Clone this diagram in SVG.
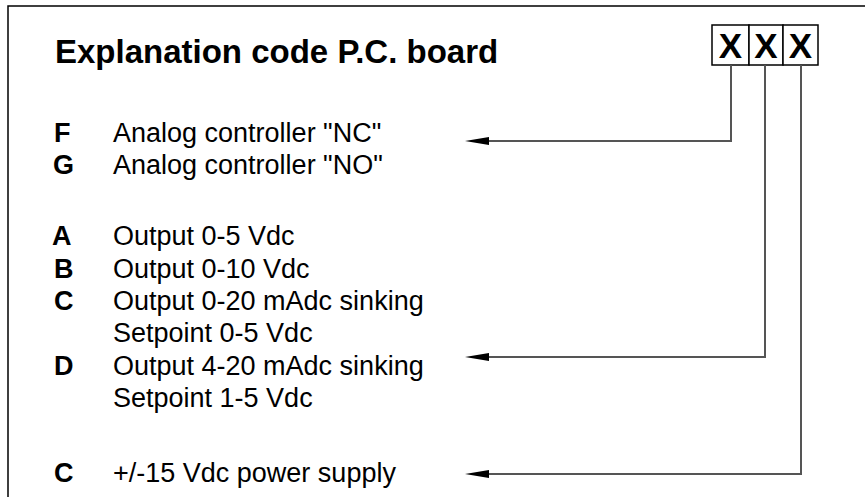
<svg xmlns="http://www.w3.org/2000/svg" width="865" height="497" viewBox="0 0 865 497">
<style>
.t{font-family:"Liberation Sans",Arial,sans-serif;font-size:27px;fill:#000}
.b{font-family:"Liberation Sans",Arial,sans-serif;font-weight:bold;fill:#000}
.l{font-size:27px}
.cell{fill:#fff;stroke:#000;stroke-width:1.5}
.con{fill:none;stroke:#555;stroke-width:2}
</style>
<defs>
<marker id="ah" viewBox="0 0 24 8" refX="0" refY="4" markerWidth="24" markerHeight="8" markerUnits="userSpaceOnUse" orient="auto-start-reverse">
<path d="M0,0 L24,4 L0,8 Z" fill="#000"/>
</marker>
</defs>
<rect x="0" y="0" width="865" height="497" fill="#fff"/>
<path d="M8,497 L8,6 L865,6" fill="none" stroke="#000" stroke-width="1.5"/>
<text id="title" class="b" x="55" y="63" font-size="33">Explanation code P.C. board</text>
<g id="code">
<rect class="cell" x="712" y="25" width="37" height="40"/>
<rect class="cell" x="749" y="25" width="34" height="40"/>
<rect class="cell" x="783" y="25" width="35" height="40"/>
<text class="b" x="730.5" y="58" font-size="35" text-anchor="middle">X</text>
<text class="b" x="766" y="58" font-size="35" text-anchor="middle">X</text>
<text class="b" x="800.5" y="58" font-size="35" text-anchor="middle">X</text>
</g>
<g id="group1">
<text class="b l" x="54" y="142">F</text><text class="t" x="113" y="142">Analog controller "NC"</text>
<text class="b l" x="53" y="174">G</text><text class="t" x="113" y="174">Analog controller "NO"</text>
</g>
<g id="group2">
<text class="b l" x="52" y="245">A</text><text class="t" x="113" y="245">Output 0-5 Vdc</text>
<text class="b l" x="54" y="278">B</text><text class="t" x="113" y="278">Output 0-10 Vdc</text>
<text class="b l" x="54" y="310">C</text><text class="t" x="113" y="310">Output 0-20 mAdc sinking</text>
<text class="t" x="113" y="342">Setpoint 0-5 Vdc</text>
<text class="b l" x="54" y="375">D</text><text class="t" x="113" y="375">Output 4-20 mAdc sinking</text>
<text class="t" x="113" y="407">Setpoint 1-5 Vdc</text>
</g>
<g id="group3">
<text class="b l" x="54" y="482">C</text><text class="t" x="113" y="482">+/-15 Vdc power supply</text>
</g>
<g id="connectors">
<path class="con" d="M731,65 L731,141 L489,141" marker-end="url(#ah)"/>
<path class="con" d="M765,65 L765,357 L489,357" marker-end="url(#ah)"/>
<path class="con" d="M801,65 L801,474 L489,474" marker-end="url(#ah)"/>
</g>
</svg>
